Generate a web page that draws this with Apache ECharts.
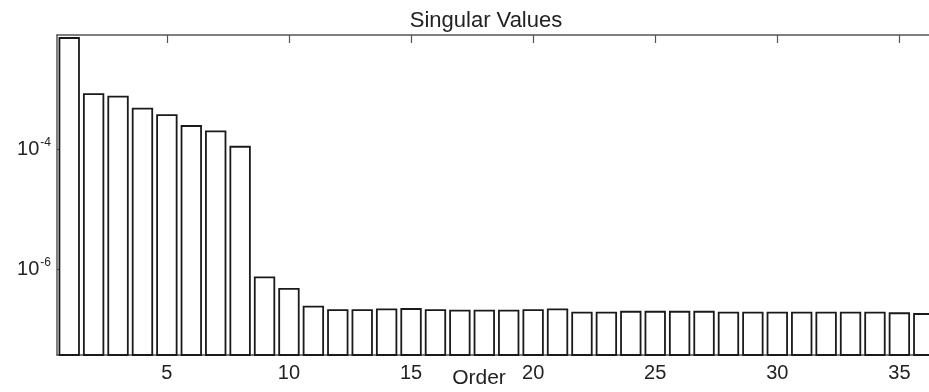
<!DOCTYPE html>
<html><head><meta charset="utf-8">
<script src="https://cdn.jsdelivr.net/npm/echarts@6/dist/echarts.min.js"></script>
<style>html,body{margin:0;padding:0;background:#fff}#c{width:929px;height:392px}</style>
</head><body><div id="c"></div>
<script>
const categories = ['1','2','3','4','5','6','7','8','9','10','11','12','13','14','15','16','17','18','19','20','21','22','23','24','25','26','27','28','29','30','31','32','33','34','35','36'];
const singularValues = [7.38e-3, 8.53e-4, 7.69e-4, 4.85e-4, 3.80e-4, 2.49e-4, 2.03e-4, 1.12e-4,
  7.35e-7, 4.69e-7, 2.37e-7, 2.08e-7, 2.08e-7, 2.14e-7, 2.17e-7, 2.08e-7, 2.03e-7, 2.03e-7,
  2.03e-7, 2.08e-7, 2.14e-7, 1.88e-7, 1.88e-7, 1.95e-7, 1.95e-7, 1.95e-7, 1.95e-7, 1.88e-7,
  1.88e-7, 1.88e-7, 1.88e-7, 1.88e-7, 1.88e-7, 1.88e-7, 1.84e-7, 1.79e-7];
const xTickLabels = ['5','10','15','20','25','30','35'];
const yTickValues = [1e-4, 1e-6];
const yMin = 3.69e-8, yMax = 8.28e-3;
const titleText = 'Singular Values';
const xAxisTitle = 'Order';

const FONT = '"Liberation Sans", Arial, sans-serif';
const axisColor = '#555';
const showTick = (idx) => xTickLabels.indexOf(categories[idx]) >= 0;

const chart = echarts.init(document.getElementById('c'));
chart.setOption({
  animation: false,
  backgroundColor: '#fff',
  grid: { left: 57, top: 35, bottom: 37, width: 879, containLabel: false, outerBoundsMode: 'none' },
  xAxis: [{
    type: 'category', data: categories, position: 'bottom', boundaryGap: true,
    axisLine: { show: true, lineStyle: { color: axisColor, width: 1.5 } },
    axisTick: { show: true, inside: true, length: 8, alignWithLabel: true, interval: showTick, lineStyle: { color: axisColor, width: 1.2 } },
    axisLabel: { show: true, interval: showTick, margin: 8, fontSize: 20, fontFamily: FONT, color: '#222' },
    splitLine: { show: false }
  }, {
    type: 'category', data: categories, position: 'top', boundaryGap: true,
    axisLine: { show: true, lineStyle: { color: axisColor, width: 1.5 } },
    axisTick: { show: true, inside: true, length: 8, alignWithLabel: true, interval: showTick, lineStyle: { color: axisColor, width: 1.2 } },
    axisLabel: { show: false },
    splitLine: { show: false }
  }],
  yAxis: [{
    type: 'log', logBase: 10, min: yMin, max: yMax, position: 'left',
    axisLine: { show: true, lineStyle: { color: axisColor, width: 1.5 } },
    axisTick: { show: true, inside: true, length: 7, customValues: yTickValues, lineStyle: { color: axisColor, width: 1.2 } },
    axisLabel: {
      show: true, customValues: yTickValues, margin: 6,
      formatter: (v) => '{b|10}{s|' + Math.round(Math.log10(v)) + '}',
      rich: {
        b: { fontSize: 20, fontFamily: FONT, color: '#222' },
        s: { fontSize: 12, fontFamily: FONT, color: '#222', padding: [0, 0, 14, 1] }
      }
    },
    splitLine: { show: false }
  }, {
    type: 'log', logBase: 10, min: yMin, max: yMax, position: 'right',
    axisLine: { show: true, lineStyle: { color: axisColor, width: 1.5 } },
    axisTick: { show: true, inside: true, length: 7, customValues: yTickValues, lineStyle: { color: axisColor, width: 1.2 } },
    axisLabel: { show: false },
    splitLine: { show: false }
  }],
  graphic: [
    { type: 'text', x: 486, y: 21, style: { text: titleText, fontSize: 22, fontFamily: FONT, fill: '#222', align: 'center', verticalAlign: 'middle' } },
    { type: 'text', x: 479, y: 378, style: { text: xAxisTitle, fontSize: 21, fontFamily: FONT, fill: '#222', align: 'center', verticalAlign: 'middle' } }
  ],
  series: [{
    type: 'custom',
    xAxisIndex: 0, yAxisIndex: 0,
    data: singularValues.map((v, i) => [i, v]),
    encode: { x: 0, y: 1 },
    renderItem: function (params, api) {
      const i = api.value(0), v = api.value(1);
      const p = api.coord([i, v]);
      const b = api.coord([i, yMin]);
      const band = api.size([1, 1], [i, v])[0];
      const w = band * 0.8;
      return {
        type: 'rect',
        shape: { x: p[0] - w / 2, y: p[1], width: w, height: b[1] - p[1] },
        style: { fill: '#fff', stroke: '#1a1a1a', lineWidth: 1.8 }
      };
    }
  }]
});
</script></body></html>
